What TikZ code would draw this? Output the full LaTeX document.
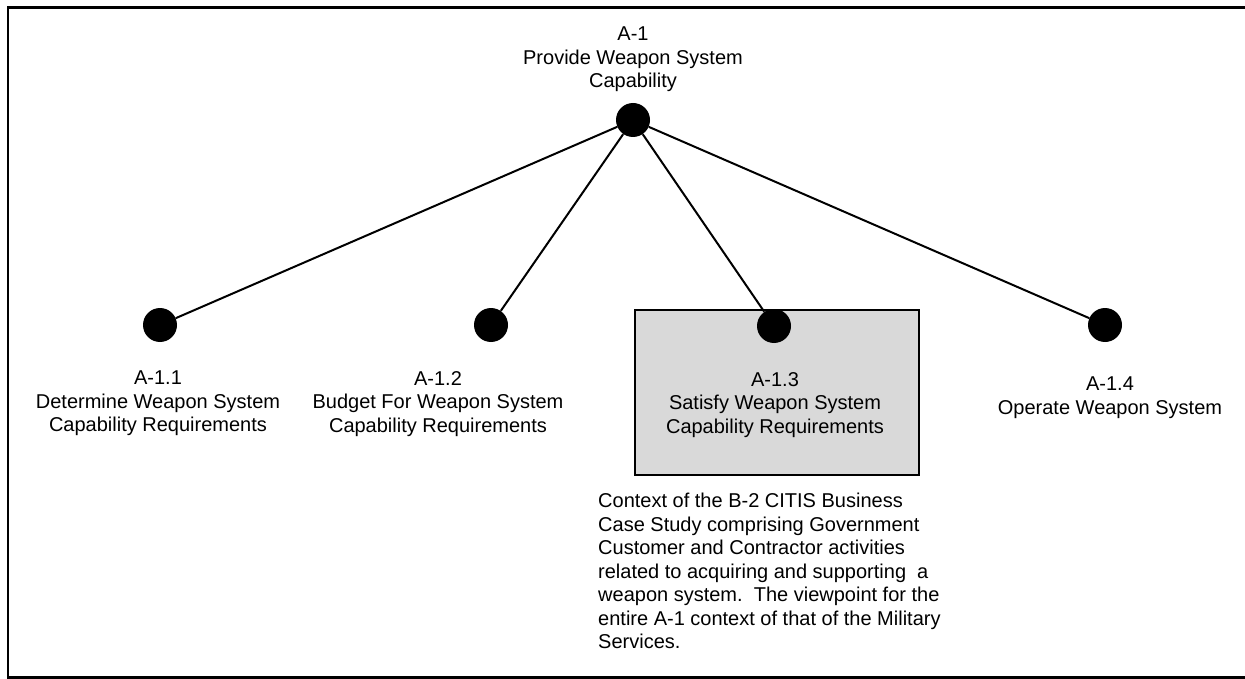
\documentclass[tikz,border=0pt]{standalone}
\usepackage{fontspec}
\setmainfont{Liberation Sans}
\begin{document}
\begin{tikzpicture}[x=1pt,y=-1pt,
  every node/.style={font=\fontsize{20}{23.5}\selectfont},
  dot/.style={circle,fill=black,draw=none,minimum size=34pt,inner sep=0pt},
  edge/.style={line width=2pt,black},
  lab/.style={align=center,inner sep=0pt,anchor=north},
  actbox/.style={draw=black,line width=2pt,fill=black!15,inner sep=0pt}
]
\useasboundingbox (0,0) rectangle (1245,679);
% outer frame
\draw[line width=2.4pt] (1250,7.5) -- (8,7.5) -- (8,677.5) -- (1250,677.5);

% shaded activity box
\node[actbox,minimum width=284pt,minimum height=165pt] (box) at (777,392.5) {};

% activity dots
\node[dot] (a1)  at (633,120) {};
\node[dot] (a11) at (160,325) {};
\node[dot] (a12) at (491,325) {};
\node[dot] (a13) at (774,326) {};
\node[dot] (a14) at (1105,325) {};

% decomposition lines
\draw[edge] (a1) -- (a11);
\draw[edge] (a1) -- (a12);
\draw[edge] (a1) -- (a13);
\draw[edge] (a1) -- (a14);

% labels
\node[lab] (l1)  at (633,27)  {A-1\\Provide Weapon System\\Capability};
\node[lab] (l11) at (158,371) {A-1.1\\Determine Weapon System\\Capability Requirements};
\node[lab] (l12) at (438,371) {A-1.2\\Budget For Weapon System\\Capability Requirements};
\node[lab] (l13) at (775,372) {A-1.3\\Satisfy Weapon System\\Capability Requirements};
\node[lab] (l14) at (1110,377) {A-1.4\\Operate Weapon System};

% context note
\node[align=left,inner sep=0pt,anchor=north west] (note) at (598,493)
  {Context of the B-2 CITIS Business\\
   Case Study comprising Government\\
   Customer and Contractor activities\\
   related to acquiring and supporting\ \ a\\
   weapon system.\ \ The viewpoint for the\\
   entire A-1 context of that of the Military\\
   Services.};
\end{tikzpicture}
\end{document}
